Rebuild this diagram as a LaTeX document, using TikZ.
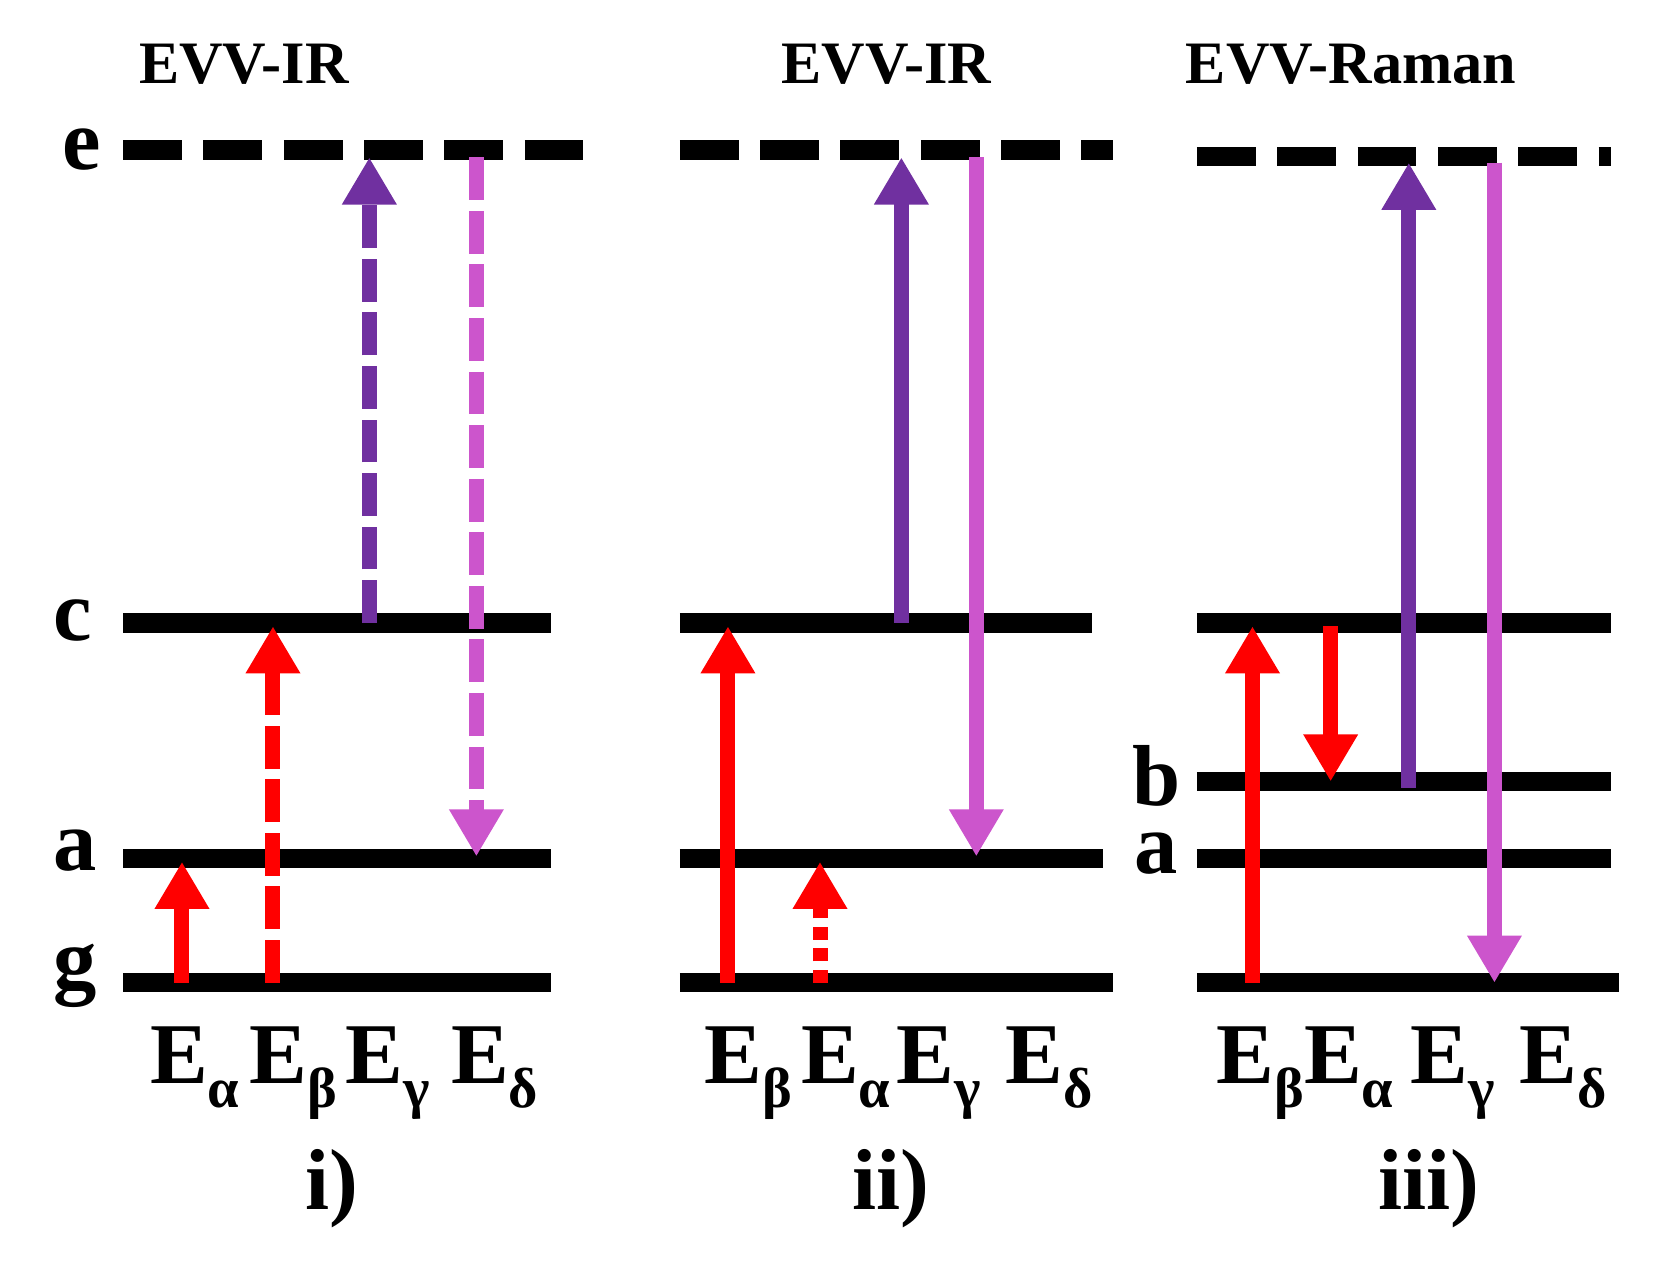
\documentclass[tikz,border=0pt]{standalone}
\usepackage{fontspec}
\setmainfont{Liberation Serif}
\usetikzlibrary{arrows.meta}
\definecolor{rr}{HTML}{FF0000}
\definecolor{pp}{HTML}{7030A0}
\definecolor{mm}{HTML}{CC55CC}
\newcommand{\Esub}[1]{E\raisebox{-0.28em}{\fontsize{15}{15}\selectfont #1}}
\begin{document}
\begin{tikzpicture}[x=0.01cm,y=-0.01cm,
 lev/.style={line width=0.18cm,black},
 elev/.style={lev,dash pattern=on 0.55cm off 0.2cm},
 ar/.style={line width=0.14cm,-{Triangle[width=0.48cm,length=0.44cm]}},
 dsh/.style={dash pattern=on 0.4cm off 0.1cm},
 dot/.style={dash pattern=on 0.12cm off 0.08cm},
 lab/.style={font=\bfseries\fontsize{23}{23}\selectfont},
 tit/.style={font=\bfseries\fontsize{16}{16}\selectfont},
 en/.style={font=\bfseries\fontsize{23}{23}\selectfont,anchor=base,inner sep=0pt}]
\useasboundingbox (0,0) rectangle (1560,1178);
% titles
\node[tit] (t1) at (228,60) {EVV-IR};
\node[tit] (t2) at (828,60) {EVV-IR};
\node[tit] (t3) at (1262,60) {EVV-Raman};
% panel i
\draw[elev] (115,140) -- (545,140);
\draw[lev] (115,582) -- (515,582);
\draw[lev] (115,802) -- (515,802);
\draw[lev] (115,918) -- (515,918);
\node[lab] (le) at (76,140) {e};
\node[lab] (lc) at (68,580) {c};
\node[lab] (la) at (70,795) {a};
\node[lab] (lg) at (70,912) {g};
\coordinate (i1a) at (170,918); \coordinate (i1b) at (170,805);
\coordinate (i2a) at (255,918); \coordinate (i2b) at (255,585);
\coordinate (i3a) at (345,582); \coordinate (i3b) at (345,147);
\coordinate (i4a) at (445,147); \coordinate (i4b) at (445,800);
\draw[ar,rr] (i1a) -- (i1b);
\draw[ar,rr,dsh] (i2a) -- (i2b);
\draw[ar,pp,dsh] (i3a) -- (i3b);
\draw[ar,mm,dsh] (i4a) -- (i4b);
% panel ii
\draw[elev] (635,140) -- (1040,140);
\draw[lev] (635,582) -- (1020,582);
\draw[lev] (635,802) -- (1030,802);
\draw[lev] (635,918) -- (1040,918);
\coordinate (j1a) at (680,918); \coordinate (j1b) at (680,585);
\coordinate (j2a) at (766,918); \coordinate (j2b) at (766,805);
\coordinate (j3a) at (842,582); \coordinate (j3b) at (842,147);
\coordinate (j4a) at (912,147); \coordinate (j4b) at (912,800);
\draw[ar,rr] (j1a) -- (j1b);
\draw[ar,rr,dot] (j2a) -- (j2b);
\draw[ar,pp] (j3a) -- (j3b);
\draw[ar,mm] (j4a) -- (j4b);
% panel iii
\draw[elev] (1118,146) -- (1505,146);
\draw[lev] (1118,582) -- (1505,582);
\draw[lev] (1118,730) -- (1505,730);
\draw[lev] (1118,802) -- (1505,802);
\draw[lev] (1118,918) -- (1512,918);
\node[lab] (lb3) at (1080,725) {b};
\node[lab] (la3) at (1080,797) {a};
\coordinate (k1a) at (1170,918); \coordinate (k1b) at (1170,585);
\coordinate (k2a) at (1243,585); \coordinate (k2b) at (1243,730);
\coordinate (k3a) at (1316,736); \coordinate (k3b) at (1316,152);
\coordinate (k4a) at (1396,152); \coordinate (k4b) at (1396,918);
\draw[ar,rr] (k1a) -- (k1b);
\draw[ar,rr] (k2a) -- (k2b);
\draw[ar,pp] (k3a) -- (k3b);
\draw[ar,mm] (k4a) -- (k4b);
% energy labels
\node[en] (e1) at (182,1012) {\Esub{α}};
\node[en] (e2) at (274,1012) {\Esub{β}};
\node[en] (e3) at (362,1012) {\Esub{γ}};
\node[en] (e4) at (462,1012) {\Esub{δ}};
\node[en] (f1) at (699,1012) {\Esub{β}};
\node[en] (f2) at (790,1012) {\Esub{α}};
\node[en] (f3) at (877,1012) {\Esub{γ}};
\node[en] (f4) at (980,1012) {\Esub{δ}};
\node[en] (g1) at (1177,1012) {\Esub{β}};
\node[en] (g2) at (1260,1012) {\Esub{α}};
\node[en] (g3) at (1357,1012) {\Esub{γ}};
\node[en] (g4) at (1460,1012) {\Esub{δ}};
\node[lab] (p1) at (310,1110) {i)};
\node[lab] (p2) at (832,1110) {ii)};
\node[lab] (p3) at (1335,1110) {iii)};
\end{tikzpicture}
\end{document}
